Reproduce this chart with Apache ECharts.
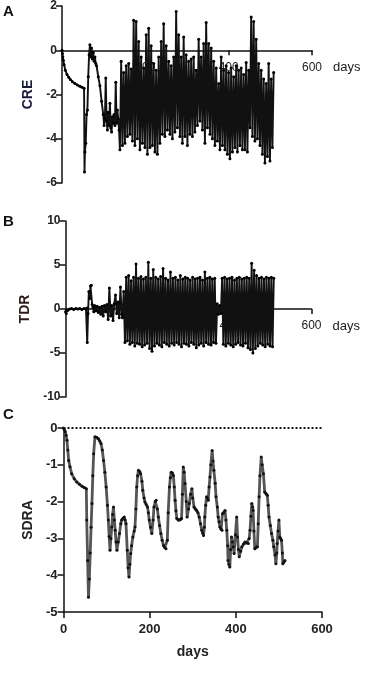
<!DOCTYPE html>
<html>
<head>
<meta charset="utf-8">
<script src="https://cdn.jsdelivr.net/npm/echarts@6/dist/echarts.min.js"></script>
<style>
  html, body { margin: 0; padding: 0; background: #fff; }
  #chart { width: 383px; height: 673px; }
</style>
</head>
<body>
<div id="chart"></div>
<script>
// panel A - CRE, start of the series (day, value)
const creEarly = [[0,0],[1,-0.15],[2,-0.3],[3,-0.45],[5,-0.65],[8,-0.9],[12,-1.1],[16,-1.22],[20,-1.32],[25,-1.42],[31,-1.5],[37,-1.57],[43,-1.63],[48,-1.67],[53,-1.72],[54,-5.5],[55,-4.6],[57,-4.2],[59,-2.9],[61,-2.7],[63,-1.2],[65,-0.2],[67,0.25],[69,-0.3],[71,0.1],[73,-0.4],[75,-0.1],[77,-0.5],[79,-0.3],[81,-0.6],[83,-0.7],[87,-1.2],[91,-1.6],[95,-2.3],[99,-2.9],[101,-3.4],[103,-3.1],[105,-1.25],[107,-3.2],[109,-3.6],[111,-2.8],[113,-3.4],[115,-2.4],[117,-3.5],[119,-3.7],[121,-3.0],[123,-3.3],[125,-2.9],[127,-3.4],[129,-1.45],[131,-3.3],[133,-2.7],[135,-3.1],[137,-3.6]];
// dense part: troughs from day 139, peaks from day 142, every 6 days
const creLows = [-4.5,-4.3,-4.2,-3.9,-3.8,-4.1,-4.3,-4.0,-4.5,-4.2,
  -4.4,-4.7,-4.4,-4.3,-4.6,-4.7,-4.2,-3.8,-3.9,-3.6,
  -3.8,-4.0,-3.7,-3.5,-3.9,-4.2,-3.9,-4.3,-3.8,-3.9,
  -3.7,-3.4,-3.2,-3.6,-4.2,-3.5,-3.8,-4.0,-4.3,-4.1,
  -4.5,-4.3,-4.5,-4.7,-4.9,-4.6,-4.4,-4.6,-4.3,-4.5,
  -4.5,-4.6,-3.5,-3.9,-4.1,-4.0,-4.3,-4.7,-5.1,-4.8,
  -5.0,-4.4];
const creHighs = [-0.5,-1.0,-0.7,-0.6,-0.85,1.36,1.3,0.4,-0.3,-0.8,
  0.7,1.0,0.2,-0.6,-0.9,-0.3,0.4,1.2,0.2,-0.5,
  -0.7,-0.3,1.75,0.7,-0.3,0.6,-0.2,-0.5,-0.4,-0.3,
  -0.9,0.5,-0.3,0.3,1.25,0.3,0.1,-0.5,-0.8,-1.5,
  -0.3,-0.9,-0.7,-1.0,-0.8,-1.2,-0.7,-0.9,-0.8,-1.1,
  -0.55,-0.9,1.5,1.3,0.5,-0.6,-0.9,-1.3,-1.5,-0.6,
  -1.3,-1.0];

// panel B - TDR
const tdrEarly = [[0,-0.3],[2,-0.5],[4,-0.2],[6,-0.1],[10,0],[15,0.05],[20,-0.05],[25,0.05],[30,0],[35,0.05],[40,-0.05],[45,0.05],[50,0],[52,0.1],[53,-3.8],[55,-0.5],[57,2.0],[59,1.2],[61,2.6],[63,2.7],[65,0.5],[67,0.2],[69,-0.3],[71,0.4],[74,-0.2],[77,0.3],[80,-0.4],[83,0.2],[86,-0.6],[89,0.3],[92,-0.8],[95,0.4],[98,-0.3],[101,0.5],[104,-1.2],[107,2.4],[110,-0.8],[113,0.4],[116,-1.3],[119,0.6],[122,1.6],[125,-0.5],[128,0.8],[131,-1.0],[134,2.5],[137,-0.6]];
const tdrLows = [-1.0,-3.8,-3.6,-4.0,-3.8,-4.2,-3.9,-4.0,-4.3,-4.1,
  -3.9,-4.5,-4.8,-4.2,-3.9,-4.1,-4.3,-3.8,-4.0,-4.2,
  -3.9,-4.1,-3.8,-4.0,-4.3,-3.9,-4.0,-4.2,-3.8,-4.0,
  -4.4,-4.1,-3.9,-4.2,-3.8,-4.0,-4.1,-3.8,-3.9,-0.6,
  -0.5,-4.0,-4.2,-3.9,-4.1,-4.3,-4.0,-3.8,-4.1,-4.2,
  -3.9,-4.4,-4.6,-5.0,-4.5,-4.2,-3.9,-4.1,-4.3,-4.0,
  -4.2,-4.3];
const tdrHighs = [2.0,3.6,3.8,3.2,3.6,5.1,3.5,3.7,3.4,3.6,
  5.3,3.5,4.5,3.6,3.4,3.7,4.6,3.5,3.3,4.2,
  3.5,3.6,3.3,3.8,3.4,3.6,3.5,3.3,3.6,3.4,
  3.5,3.6,3.3,4.2,3.5,3.6,3.4,3.5,0.6,0.4,
  3.5,3.6,3.4,3.5,3.6,3.3,3.5,3.6,3.4,3.5,
  3.6,3.5,5.2,4.4,3.8,3.5,3.6,3.4,3.6,3.5,
  3.6,3.5];
const lowStart = 139, highStart = 142, denseStep = 6;

// panel C - SDRA (day, value)
const sdraPoints = [[0,0],[2,-0.05],[4,-0.1],[6,-0.2],[8,-0.33],[10,-0.6],[12,-0.88],[15,-1.05],[19,-1.24],[25,-1.38],[31,-1.47],[37,-1.53],[43,-1.58],[48,-1.62],[53,-1.65],[54,-2.5],[56,-3.6],[58,-4.6],[60,-4.1],[62,-3.4],[64,-2.7],[66,-2.05],[68,-1.3],[70,-0.7],[73,-0.24],[77,-0.25],[81,-0.29],[84,-0.35],[87,-0.42],[90,-0.6],[93,-0.88],[96,-1.2],[99,-1.6],[102,-2.1],[104,-2.5],[106,-2.95],[108,-3.32],[110,-3.0],[112,-2.69],[114,-2.35],[116,-2.15],[118,-2.5],[120,-2.78],[122,-3.1],[124,-3.32],[127,-3.1],[130,-2.87],[133,-2.6],[135,-2.5],[138,-2.45],[141,-2.42],[143,-2.5],[145,-2.6],[148,-3.32],[150,-3.8],[152,-4.05],[154,-3.7],[156,-3.41],[158,-3.2],[161,-2.96],[164,-2.8],[166,-2.69],[168,-2.2],[170,-1.6],[172,-1.3],[174,-1.15],[177,-1.18],[179,-1.24],[182,-1.45],[184,-1.69],[187,-1.9],[189,-2.01],[192,-2.08],[195,-2.15],[197,-2.3],[199,-2.5],[202,-2.7],[205,-2.87],[208,-2.5],[210,-2.15],[213,-2.0],[215,-1.96],[218,-2.2],[220,-2.42],[223,-2.65],[226,-2.87],[229,-3.05],[232,-3.19],[235,-3.25],[238,-3.28],[241,-3.05],[243,-2.3],[246,-1.6],[248,-1.35],[250,-1.2],[253,-1.22],[255,-1.29],[257,-1.6],[259,-1.96],[261,-2.25],[263,-2.46],[266,-2.5],[269,-2.5],[272,-2.48],[274,-2.46],[276,-1.8],[278,-1.06],[280,-1.2],[282,-1.51],[285,-2.0],[287,-2.42],[290,-2.2],[292,-2.05],[295,-1.8],[298,-1.65],[300,-1.9],[303,-2.15],[306,-2.2],[309,-2.24],[312,-2.3],[315,-2.42],[318,-2.6],[321,-2.78],[323,-2.85],[325,-2.92],[327,-2.7],[328,-2.42],[330,-2.1],[332,-1.87],[334,-1.9],[336,-1.96],[338,-1.6],[340,-1.33],[342,-1.0],[345,-0.61],[347,-0.9],[349,-1.15],[352,-1.5],[354,-1.87],[357,-2.15],[359,-2.42],[361,-2.55],[363,-2.69],[366,-2.75],[368,-2.78],[369,-2.33],[372,-2.3],[375,-2.24],[377,-2.5],[379,-2.78],[381,-3.2],[382,-3.6],[384,-3.7],[386,-3.78],[388,-3.3],[390,-2.96],[392,-3.1],[394,-3.23],[396,-3.41],[399,-2.9],[402,-2.42],[404,-2.96],[406,-3.3],[408,-3.5],[411,-3.35],[414,-3.23],[418,-3.15],[421,-3.1],[425,-3.12],[429,-3.14],[431,-3.0],[433,-2.78],[435,-2.4],[437,-2.05],[439,-2.15],[440,-2.24],[442,-2.8],[444,-3.28],[447,-3.25],[450,-3.23],[452,-2.6],[454,-1.87],[456,-1.3],[459,-0.79],[461,-1.0],[464,-1.24],[467,-1.74],[470,-1.78],[473,-1.83],[475,-2.1],[477,-2.42],[480,-2.65],[483,-2.87],[486,-3.05],[488,-3.23],[491,-3.45],[493,-3.69],[495,-3.4],[496,-3.14],[498,-2.8],[500,-2.5],[502,-2.96],[504,-3.0],[506,-3.05],[508,-3.4],[509,-3.69],[511,-3.65],[514,-3.6]];

const FONT = '"Liberation Sans", Arial, sans-serif';

function buildSeries(early, lows, highs) {
  let dense = [];
  lows.forEach((v, i) => dense.push([lowStart + i * denseStep, v]));
  highs.forEach((v, i) => dense.push([highStart + i * denseStep, v]));
  dense.sort((a, b) => a[0] - b[0]);
  return early.concat(dense);
}

function zeroXAxis(grid, offset) {//x axis moved up to y=0, "600 days" at the end
  return {
    type: 'value', gridIndex: grid, min: 0, max: 600, interval: 200,
    position: 'bottom', offset: offset,
    axisLine: { onZero: false, lineStyle: { color: '#111', width: 1.5 } },
    axisTick: { length: 5, lineStyle: { color: '#111', width: 1.5 } },
    axisLabel: {
      margin: 11, fontSize: 12, color: '#222', fontFamily: FONT,
      formatter: v => v == 0 ? '' : v
    },
    splitLine: { show: false },
    name: 'days', nameLocation: 'end', nameGap: 21,
    nameTextStyle: { fontSize: 13, color: '#222', fontFamily: FONT, verticalAlign: 'top', padding: [11, 0, 0, 0] }
  };
}

function leftYAxis(grid, min, max, step, name, nameColor, gap) {
  return {
    type: 'value', gridIndex: grid, min: min, max: max, interval: step,
    axisLine: { show: true, onZero: false, lineStyle: { color: '#111', width: 1.5 } },
    axisTick: { show: true, length: 6, lineStyle: { color: '#111', width: 1.5 } },
    axisLabel: { margin: 5, fontSize: 12, fontWeight: 'bold', color: '#222', fontFamily: FONT },
    splitLine: { show: false },
    name: name, nameLocation: 'middle', nameGap: gap,
    nameTextStyle: { fontSize: 14, fontWeight: 'bold', color: nameColor, fontFamily: FONT }
  };
}

const chart = echarts.init(document.getElementById('chart'));
const option = {
  animation: false,
  backgroundColor: '#fff',
  graphic: [
    { type: 'text', left: 3, top: 4, style: { text: 'A', font: 'bold 15px ' + FONT, fill: '#111' } },
    { type: 'text', left: 3, top: 214, style: { text: 'B', font: 'bold 15px ' + FONT, fill: '#111' } },
    { type: 'text', left: 3, top: 407, style: { text: 'C', font: 'bold 15px ' + FONT, fill: '#111' } }
  ],
  grid: [
    { left: 62, top: 6, width: 250, height: 177 },
    { left: 65.5, top: 221, width: 246, height: 176 },
    { left: 63.5, top: 428, width: 258.5, height: 184 }
  ],
  xAxis: [
    zeroXAxis(0, -132.75),
    zeroXAxis(1, -88),
    {
      type: 'value', gridIndex: 2, min: 0, max: 600, interval: 200,
      axisLine: { onZero: false, lineStyle: { color: '#111', width: 1.5 } },
      axisTick: { length: 6, lineStyle: { color: '#111', width: 1.5 } },
      axisLabel: { margin: 11, fontSize: 13, fontWeight: 'bold', color: '#222', fontFamily: FONT },
      splitLine: { show: false },
      name: 'days', nameLocation: 'middle', nameGap: 33,
      nameTextStyle: { fontSize: 14, fontWeight: 'bold', color: '#222', fontFamily: FONT }
    }
  ],
  yAxis: [
    leftYAxis(0, -6, 2, 2, 'CRE', '#1c1c3a', 23),
    leftYAxis(1, -10, 10, 5, 'TDR', '#2e1a1a', 25),
    Object.assign(leftYAxis(2, -5, 0, 1, 'SDRA', '#222', 28), {
      axisLabel: { margin: 6, fontSize: 13, fontWeight: 'bold', color: '#222', fontFamily: FONT }
    })
  ],
  series: [
    {
      type: 'line', xAxisIndex: 0, yAxisIndex: 0,
      data: buildSeries(creEarly, creLows, creHighs),
      showAllSymbol: true, symbol: 'circle', symbolSize: 3,
      itemStyle: { color: '#000' },
      lineStyle: { color: '#111', width: 1.9 }
    },
    {
      type: 'line', xAxisIndex: 1, yAxisIndex: 1,
      data: buildSeries(tdrEarly, tdrLows, tdrHighs),
      showAllSymbol: true, symbol: 'circle', symbolSize: 3,
      itemStyle: { color: '#000' },
      lineStyle: { color: '#111', width: 1.9 }
    },
    {
      type: 'line', xAxisIndex: 2, yAxisIndex: 2,
      data: sdraPoints,
      showAllSymbol: true, symbol: 'circle', symbolSize: 3,
      itemStyle: { color: '#111' },
      lineStyle: { color: '#555', width: 2.8 },
      markLine: {
        silent: true, symbol: 'none', label: { show: false },
        lineStyle: { type: 'dotted', color: '#111', width: 2 },
        data: [{ yAxis: 0 }]
      }
    }
  ]
};
chart.setOption(option);
</script>
</body>
</html>
